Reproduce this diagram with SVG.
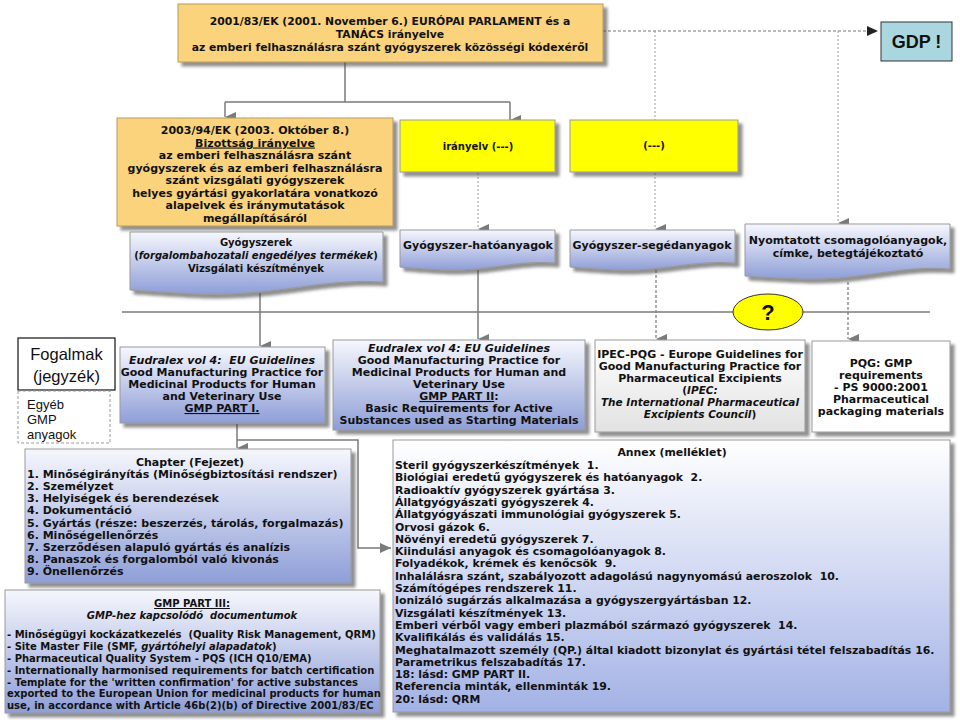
<svg xmlns="http://www.w3.org/2000/svg" width="960" height="720" viewBox="0 0 960 720">
<style>
.v{font-family:"DejaVu Sans",Verdana,sans-serif;font-weight:bold;fill:#111}
.c{text-anchor:middle}
.i{font-style:italic}
.u{text-decoration:underline}
.a{font-family:"Liberation Sans",Arial,sans-serif;fill:#111}
.ln{fill:none;stroke:#7a7a7a;stroke-width:1.5}
.dash{fill:none;stroke:#777;stroke-width:1.2;stroke-dasharray:3 2}
.dot{fill:none;stroke:#999;stroke-width:1;stroke-dasharray:2 2}
.or{fill:#FAD37B;stroke:#B49A62;stroke-width:1}
.ye{fill:#FFFF00;stroke:#999;stroke-width:1}
.bl{fill:url(#gb);stroke:#999;stroke-width:1}
.an{fill:url(#ga);stroke:#999;stroke-width:1}
.gr{fill:url(#gg);stroke:#999;stroke-width:1}
.wh{fill:#fff;stroke:#999;stroke-width:1}
</style>
<defs>
<linearGradient id="gb" x1="0" y1="0" x2="0" y2="1"><stop offset="0" stop-color="#F6F7FD"/><stop offset="1" stop-color="#8E9ED7"/></linearGradient>
<linearGradient id="ga" x1="0" y1="0" x2="0" y2="1"><stop offset="0" stop-color="#FFFFFF"/><stop offset="1" stop-color="#A3B2E5"/></linearGradient>
<linearGradient id="gg" x1="0" y1="0" x2="0" y2="1"><stop offset="0" stop-color="#FFFFFF"/><stop offset="1" stop-color="#E2E2E2"/></linearGradient>
<filter id="sh" x="-10%" y="-10%" width="130%" height="140%"><feDropShadow dx="4" dy="4" stdDeviation="1.5" flood-color="#444" flood-opacity="0.6"/></filter>
<marker id="ar" markerUnits="userSpaceOnUse" markerWidth="10" markerHeight="12" refX="5" refY="11" orient="auto-start-reverse" viewBox="0 0 10 12"><path d="M0,0 L10,0 L5,11 Z" fill="#7a7a7a"/></marker>
<marker id="ah" markerUnits="userSpaceOnUse" markerWidth="12" markerHeight="10" refX="11" refY="5" orient="auto" viewBox="0 0 12 10"><path d="M0,0 L11,5 L0,10 Z" fill="#222"/></marker>
<marker id="ar2" markerUnits="userSpaceOnUse" markerWidth="12" markerHeight="10" refX="11" refY="5" orient="auto" viewBox="0 0 12 10"><path d="M0,0 L11,5 L0,10 Z" fill="#7a7a7a"/></marker>
</defs>
<rect width="960" height="720" fill="#fff"/>

<g id="connectors">
<path class="ln" d="M345,62 V102 M225,102 H510"/>
<path class="ln" d="M225,102 V117" marker-end="url(#ar)"/>
<path class="ln" d="M510,102 V120" marker-end="url(#ar)"/>
<path class="dash" d="M603,31 H878" marker-end="url(#ah)"/>
<path class="dot" d="M655,31 V120"/>
<path class="dot" d="M838,31 V223" marker-end="url(#ar)"/>
<path class="dot" d="M478,173 V229" marker-end="url(#ar)"/>
<path class="dot" d="M655,173 V229" marker-end="url(#ar)"/>
<path class="ln" d="M122,312 H930"/>
<path class="ln" d="M260,293 V346" marker-end="url(#ar)"/>
<path class="ln" d="M478,270 V339" marker-end="url(#ar)"/>
<path class="dash" d="M656,270 V339" marker-end="url(#ar)"/>
<path class="dash" d="M848,282 V339" marker-end="url(#ar)"/>
<path class="ln" d="M237,424 V448" marker-end="url(#ar)"/>
<path class="ln" d="M237,440 H358 V548 H391" marker-end="url(#ar2)"/>
</g>

<g id="n-2001">
<rect class="or" x="178" y="4" width="425" height="58" filter="url(#sh)"/>
<text class="v c" font-size="10.8" x="390" y="25">2001/83/EK (2001. November 6.) EURÓPAI PARLAMENT és a</text>
<text class="v c" font-size="10.8" x="390" y="38">TANÁCS irányelve</text>
<text class="v c" font-size="10.8" x="390" y="51">az emberi felhasználásra szánt gyógyszerek közösségi kódexéről</text>
</g>

<g id="n-gdp">
<rect x="881" y="22" width="71" height="39" fill="#A9D6DF" stroke="#333" stroke-width="1"/>
<text class="a c" font-size="18" font-weight="bold" x="916.5" y="48">GDP !</text>
</g>

<g id="n-2003">
<rect class="or" x="117" y="118" width="276" height="108" filter="url(#sh)"/>
<g class="v c" font-size="11">
<text x="255" y="134">2003/94/EK (2003. Október 8.)</text>
<text x="255" y="146.5" class="u">Bizottság irányelve</text>
<text x="255" y="159">az emberi felhasználásra szánt</text>
<text x="255" y="171.5">gyógyszerek és az emberi felhasználásra</text>
<text x="255" y="184">szánt vizsgálati gyógyszerek</text>
<text x="255" y="196.5">helyes gyártási gyakorlatára vonatkozó</text>
<text x="255" y="209">alapelvek és iránymutatások</text>
<text x="255" y="221.5">megállapításáról</text>
</g>
</g>

<g id="n-iranyelv">
<rect class="ye" x="400" y="120" width="155" height="52" filter="url(#sh)"/>
<text class="v c" font-size="10" x="478" y="150">irányelv (---)</text>
</g>

<g id="n-dash">
<rect class="ye" x="570" y="120" width="168" height="52" filter="url(#sh)"/>
<text class="v c" font-size="10" x="654" y="149">(---)</text>
</g>

<g id="n-gyogyszerek">
<path class="bl" filter="url(#sh)" d="M130,232 H383 V282 C320,278 280,296 200,294 C170,293 150,291 130,290 Z"/>
<g class="v c" font-size="10">
<text x="256" y="246">Gyógyszerek</text>
<text x="256" y="259">(<tspan class="i">forgalombahozatali engedélyes termékek</tspan>)</text>
<text x="256" y="272">Vizsgálati készítmények</text>
</g>
</g>

<g id="n-hatoanyag">
<path class="bl" filter="url(#sh)" d="M400,230 H555 V263 C515,260 490,271 445,270 C425,269 412,268 400,267 Z"/>
<text class="v c" font-size="11" x="478" y="249">Gyógyszer-hatóanyagok</text>
</g>

<g id="n-segedanyag">
<path class="bl" filter="url(#sh)" d="M570,230 H735 V263 C693,260 665,271 618,270 C597,269 583,268 570,267 Z"/>
<text class="v c" font-size="11" x="652" y="249">Gyógyszer-segédanyagok</text>
</g>

<g id="n-nyomtatott">
<path class="bl" filter="url(#sh)" d="M745,224 H950 V269 C897,265 865,280 805,279 C778,278 760,277 745,276 Z"/>
<g class="v c" font-size="11">
<text x="848" y="244">Nyomtatott csomagolóanyagok,</text>
<text x="848" y="257">címke, betegtájékoztató</text>
</g>
</g>

<g id="n-question">
<ellipse cx="768" cy="312" rx="35" ry="18" fill="#FFFF00" stroke="#333" stroke-width="1"/>
<text class="a c" font-size="22" font-weight="bold" x="768" y="320">?</text>
</g>

<g id="n-fogalmak">
<rect x="18" y="338" width="97" height="52" fill="#fff" stroke="#111" stroke-width="1.2"/>
<text class="a c" font-size="16.5" x="66.5" y="360">Fogalmak</text>
<text class="a c" font-size="16.5" x="66.5" y="382">(jegyzék)</text>
</g>

<g id="n-egyeb">
<rect x="18" y="391" width="92" height="52" fill="#fff" stroke="#999" stroke-width="1" stroke-dasharray="3 2"/>
<text class="a" font-size="13" x="27" y="409">Egyéb</text>
<text class="a" font-size="13" x="27" y="424">GMP</text>
<text class="a" font-size="13" x="27" y="439">anyagok</text>
</g>

<g id="n-part1">
<rect class="bl" x="120" y="347" width="205" height="76" filter="url(#sh)"/>
<g class="v c" font-size="11">
<text x="222" y="364" class="i">Eudralex vol 4:&#160; EU Guidelines</text>
<text x="222" y="376">Good Manufacturing Practice for</text>
<text x="222" y="388">Medicinal Products for Human</text>
<text x="222" y="400">and Veterinary Use</text>
<text x="222" y="412" class="u">GMP PART I.</text>
</g>
</g>

<g id="n-part2">
<rect class="bl" x="333" y="340" width="252" height="90" filter="url(#sh)"/>
<g class="v c" font-size="11">
<text x="459" y="352" class="i">Eudralex vol 4: EU Guidelines</text>
<text x="459" y="364">Good Manufacturing Practice for</text>
<text x="459" y="376">Medicinal Products for Human and</text>
<text x="459" y="388">Veterinary Use</text>
<text x="459" y="400"><tspan class="u">GMP PART II</tspan>:</text>
<text x="459" y="412">Basic Requirements for Active</text>
<text x="459" y="424">Substances used as Starting Materials</text>
</g>
</g>

<g id="n-ipec">
<rect class="gr" x="595" y="340" width="210" height="92" filter="url(#sh)"/>
<g class="v c" font-size="11">
<text x="700" y="358">IPEC-PQG - Europe Guidelines for</text>
<text x="700" y="370">Good Manufacturing Practice for</text>
<text x="700" y="382">Pharmaceutical Excipients</text>
<text x="700" y="394" font-size="10.5">(<tspan class="i">IPEC:</tspan></text>
<text x="700" y="406" class="i" font-size="10.5">The International Pharmaceutical</text>
<text x="700" y="418" font-size="10.5"><tspan class="i">Excipients Council</tspan>)</text>
</g>
</g>

<g id="n-pqg">
<rect class="wh" x="812" y="341" width="138" height="91" filter="url(#sh)"/>
<g class="v c" font-size="11">
<text x="881" y="367">PQG: GMP</text>
<text x="881" y="379">requirements</text>
<text x="881" y="391">- PS 9000:2001</text>
<text x="881" y="403">Pharmaceutical</text>
<text x="881" y="415">packaging materials</text>
</g>
</g>

<g id="n-chapter">
<rect class="bl" x="25" y="449" width="326" height="134" filter="url(#sh)"/>
<g class="v" font-size="11">
<text x="190" y="466" class="c">Chapter (Fejezet)</text>
<text x="27" y="478">1. Minőségirányítás (Minőségbiztosítási rendszer)</text>
<text x="27" y="490">2. Személyzet</text>
<text x="27" y="502">3. Helyiségek és berendezések</text>
<text x="27" y="514">4. Dokumentáció</text>
<text x="27" y="526.5">5. Gyártás (része: beszerzés, tárolás, forgalmazás)</text>
<text x="27" y="539">6. Minőségellenőrzés</text>
<text x="27" y="551">7. Szerződésen alapuló gyártás és analízis</text>
<text x="27" y="563">8. Panaszok és forgalomból való kivonás</text>
<text x="27" y="575">9. Önellenőrzés</text>
</g>
</g>

<g id="n-part3">
<rect class="bl" x="5" y="590" width="375" height="123" filter="url(#sh)"/>
<g class="v" font-size="10">
<text x="192" y="607" class="c u">GMP PART III:</text>
<text x="192" y="619" class="c i">GMP-hez kapcsolódó&#160; documentumok</text>
<text x="7" y="638">- Minőségügyi kockázatkezelés&#160; (Quality Risk Management, QRM)</text>
<text x="7" y="650">- Site Master File (SMF, <tspan class="i">gyártóhelyi alapadatok</tspan>)</text>
<text x="7" y="662">- Pharmaceutical Quality System - PQS (ICH Q10/EMA)</text>
<text x="7" y="674">- Internationally harmonised requirements for batch certification</text>
<text x="7" y="685.5">- Template for the 'written confirmation' for active substances</text>
<text x="7" y="697">exported to the European Union for medicinal products for human</text>
<text x="7" y="708.5">use, in accordance with Article 46b(2)(b) of Directive 2001/83/EC</text>
</g>
</g>

<g id="n-annex">
<rect class="an" x="393" y="440" width="557" height="272" filter="url(#sh)"/>
<g class="v" font-size="10.9">
<text x="672" y="456" class="c">Annex (melléklet)</text>
<text x="395" y="469">Steril gyógyszerkészítmények&#160; 1.</text>
<text x="395" y="481.3">Biológiai eredetű gyógyszerek és hatóanyagok&#160; 2.</text>
<text x="395" y="493.6">Radioaktív gyógyszerek gyártása 3.</text>
<text x="395" y="505.9">Állatgyógyászati gyógyszerek 4.</text>
<text x="395" y="518.2">Állatgyógyászati immunológiai gyógyszerek 5.</text>
<text x="395" y="530.5">Orvosi gázok 6.</text>
<text x="395" y="542.8">Növényi eredetű gyógyszerek 7.</text>
<text x="395" y="555.1">Kiindulási anyagok és csomagolóanyagok 8.</text>
<text x="395" y="567.4">Folyadékok, krémek és kenőcsök&#160; 9.</text>
<text x="395" y="579.7">Inhalálásra szánt, szabályozott adagolású nagynyomású aeroszolok&#160; 10.</text>
<text x="395" y="592">Számítógépes rendszerek 11.</text>
<text x="395" y="604.3">Ionizáló sugárzás alkalmazása a gyógyszergyártásban 12.</text>
<text x="395" y="616.6">Vizsgálati készítmények 13.</text>
<text x="395" y="628.9">Emberi vérből vagy emberi plazmából származó gyógyszerek&#160; 14.</text>
<text x="395" y="641.2">Kvalifikálás és validálás 15.</text>
<text x="395" y="653.5">Meghatalmazott személy (QP.) által kiadott bizonylat és gyártási tétel felszabadítás 16.</text>
<text x="395" y="665.8">Parametrikus felszabadítás 17.</text>
<text x="395" y="678.1">18: lásd: GMP PART II.</text>
<text x="395" y="690.4">Referencia minták, ellenminták 19.</text>
<text x="395" y="702.7">20: lásd: QRM</text>
</g>
</g>
</svg>
